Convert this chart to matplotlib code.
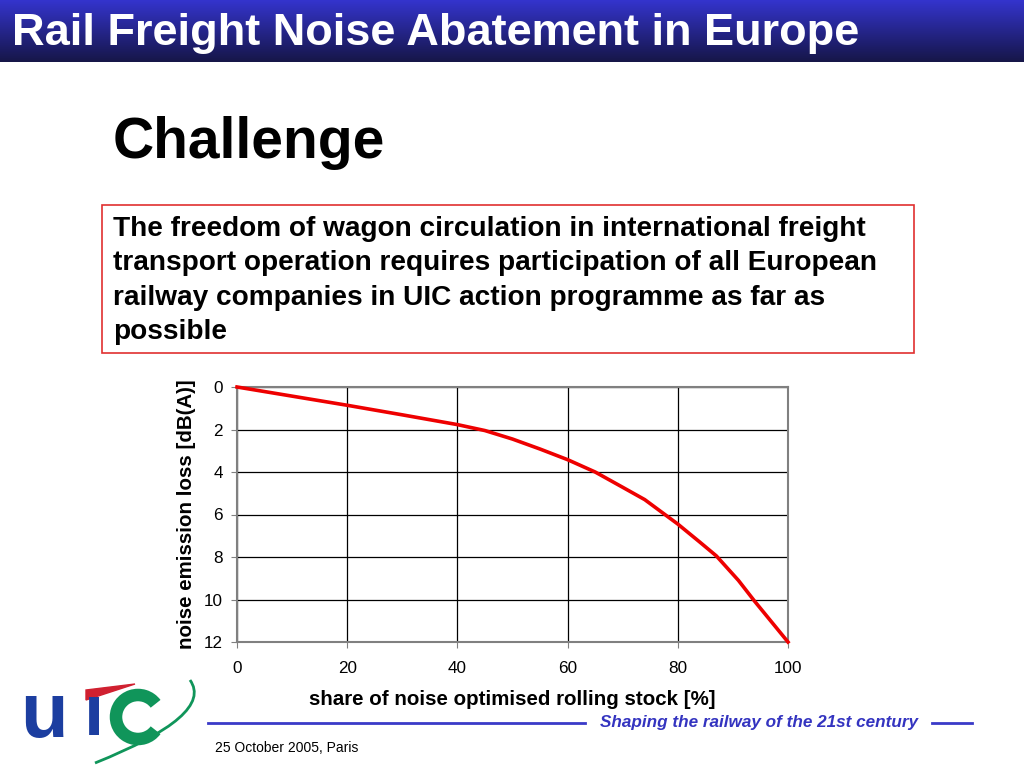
import numpy as np
import matplotlib.pyplot as plt
from matplotlib.patches import Rectangle, Arc, PathPatch, Polygon
from matplotlib.path import Path

# data
share = [0, 10, 20, 30, 40, 45, 50, 55, 60, 65, 70, 74, 80, 84, 87, 91, 94, 97, 100]
loss = [0, 0.43, 0.86, 1.31, 1.77, 2.05, 2.45, 2.92, 3.42, 4.0, 4.72, 5.3, 6.45,
        7.3, 7.95, 9.1, 10.1, 11.05, 12]
x_ticks = [0, 20, 40, 60, 80, 100]
y_ticks = [0, 2, 4, 6, 8, 10, 12]

box_lines = [
    "The freedom of wagon circulation in international freight",
    "transport operation requires participation of all European",
    "railway companies in UIC action programme as far as",
    "possible",
]

W, H = 1024, 768
fig = plt.figure(figsize=(W / 100, H / 100), dpi=100)
fig.patch.set_facecolor("white")


def fx(px):
    return px / W


def fy(py):
    return 1 - py / H


sans = ["Liberation Sans", "DejaVu Sans"]
narrow = ["Liberation Sans Narrow", "Liberation Sans", "DejaVu Sans"]

# title bar with gradient
bar = fig.add_axes([0, fy(62), 1, 62 / H])
top = np.array([52, 52, 205]) / 255
bot = np.array([22, 22, 72]) / 255
t = np.linspace(0, 1, 100)[:, None]
grad = (top * (1 - t) + bot * t)[:, None, :].repeat(2, axis=1)
bar.imshow(grad, aspect="auto", extent=[0, 1, 0, 1])
bar.axis("off")
fig.text(fx(12), fy(33), "Rail Freight Noise Abatement in Europe", color="white",
         fontsize=32.5, fontweight="bold", family=narrow, va="center", ha="left")

fig.text(fx(113), fy(143), "Challenge", fontsize=41, fontweight="bold",
         family=sans, va="center", ha="left")

# red box with statement
fig.patches.append(Rectangle((fx(102), fy(353)), (914 - 102) / W, (353 - 205) / H,
                             transform=fig.transFigure, fill=False,
                             edgecolor="#e03030", lw=1.2))
for i, line in enumerate(box_lines):
    fig.text(fx(113), fy(229 + i * 34.5), line, fontsize=20.2, fontweight="bold",
             family=sans, va="center", ha="left")

# chart
ax = fig.add_axes([fx(237), fy(642), (788 - 237) / W, (642 - 387) / H])
ax.plot(share, loss, color="#ee0000", lw=2.6, zorder=3, clip_on=False)
ax.set_xlim(0, 100)
ax.set_ylim(12, 0)
ax.set_xticks(x_ticks)
ax.set_yticks(y_ticks)
ax.grid(True, color="black", lw=0.9)
for s in ax.spines.values():
    s.set_color("#808080")
    s.set_linewidth(1.5)
ax.tick_params(labelsize=12.3, length=4, color="#808080")
ax.tick_params(axis="x", pad=10)
ax.tick_params(axis="y", pad=6)
for lab in ax.get_xticklabels() + ax.get_yticklabels():
    lab.set_family(sans)
ax.set_xlabel("share of noise optimised rolling stock [%]", fontsize=14.8,
              fontweight="bold", family=sans, labelpad=10)
ax.set_ylabel("noise emission loss [dB(A)]", fontsize=14.8, fontweight="bold",
              family=sans, labelpad=6)

# footer
fig.add_artist(plt.Line2D([fx(208), fx(585)], [fy(723), fy(723)], color="#3a3ac8", lw=2))
fig.add_artist(plt.Line2D([fx(932), fx(972)], [fy(723), fy(723)], color="#3a3ac8", lw=2))
fig.text(fx(600), fy(723), "Shaping the railway of the 21st century", color="#3434c0",
         fontsize=12.3, fontweight="bold", style="italic", family=narrow, va="center")
fig.text(fx(215), fy(748), "25 October 2005, Paris", fontsize=10, family=narrow, va="center")

# simple UIC logo
fig.text(fx(20), fy(716), "u", color="#1c3ea0", fontsize=56, fontweight="bold",
         family=sans, va="center", ha="left")
fig.text(fx(84), fy(716), "\u0131", color="#1c3ea0", fontsize=52, fontweight="bold",
         family=sans, va="center", ha="left")
fig.patches.append(Polygon([(fx(86), fy(700)), (fx(86), fy(690)), (fx(135), fy(684))],
                           closed=True, transform=fig.transFigure, color="#d02030"))
fig.patches.append(Arc((fx(138), fy(717)), 44 / W, 44 / H, theta1=45, theta2=315,
                       transform=fig.transFigure, color="#10955a", lw=9))
swoosh = Path([(fx(95), fy(763)), (fx(215), fy(715)), (fx(190), fy(680))],
              [Path.MOVETO, Path.CURVE3, Path.CURVE3])
fig.patches.append(PathPatch(swoosh, transform=fig.transFigure, fill=False,
                             edgecolor="#10955a", lw=2))

fig.savefig("out.png", dpi=100)
